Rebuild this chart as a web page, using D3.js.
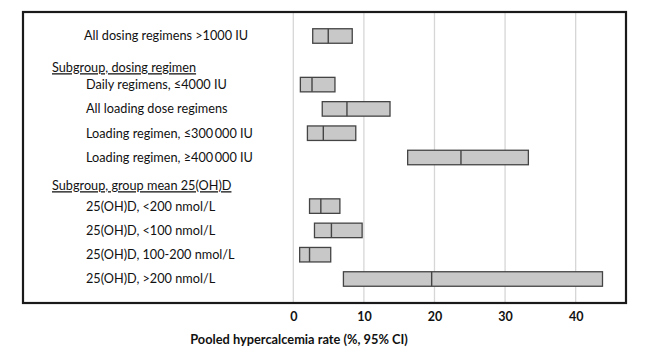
<!DOCTYPE html>
<html><head><meta charset="utf-8">
<script src="https://cdn.jsdelivr.net/npm/d3@7"></script>
<style>body{margin:0;background:#fff}svg{display:block}text{font-family:Lato,"Open Sans",sans-serif;fill:#111}</style>
</head><body><svg id="c" width="649" height="356"></svg>
<script>
// rows: slot index on the vertical layout, label, and whether it is a heading
const rowLabels = ["All dosing regimens >1000 IU","Subgroup, dosing regimen","Daily regimens, \u22644000 IU","All loading dose regimens","Loading regimen, \u2264300\u2009000 IU","Loading regimen, \u2265400\u2009000 IU","Subgroup, group mean 25(OH)D","25(OH)D, <200 nmol/L","25(OH)D, <100 nmol/L","25(OH)D, 100-200 nmol/L","25(OH)D, >200 nmol/L"];
const isHeader = [false,true,false,false,false,false,true,false,false,false,false];
const lower  = [2.75,null,1.0,4.1,2.0,16.2,null,2.3,3.0,0.9,7.1];
const median = [4.95,null,2.65,7.6,4.25,23.75,null,3.9,5.4,2.3,19.6];
const upper  = [8.35,null,5.9,13.7,8.85,33.3,null,6.6,9.75,5.3,43.8];
const xTicks = [0,10,20,30,40];
const xTitle = "Pooled hypercalcemia rate (%, 95% CI)";

const svg = d3.select("#c");
const frame = {left:23, top:12, right:626, bottom:303};
const x = d3.scaleLinear().domain([0,47.2]).range([293.3,626.5]);
const y = d3.scalePoint().domain(d3.range(rowLabels.length)).range([36,279]);

// gridlines
svg.append("g").selectAll("line").data(xTicks).join("line")
  .attr("x1",d=>x(d)).attr("x2",d=>x(d)).attr("y1",frame.top).attr("y2",frame.bottom)
  .attr("stroke","#d6d6d6").attr("stroke-width",1.3);

// bars
const rows = rowLabels.map((l,i)=>({i,l,h:isHeader[i],lo:lower[i],md:median[i],hi:upper[i]})).filter(d=>!d.h);
const bh = 14.5;
const g = svg.append("g");
g.selectAll("rect").data(rows).join("rect")
  .attr("x",d=>x(d.lo)).attr("width",d=>x(d.hi)-x(d.lo))
  .attr("y",d=>y(d.i)-bh/2).attr("height",bh)
  .attr("fill","#c8c8c8").attr("stroke","#444").attr("stroke-width",1.3);
g.selectAll("line").data(rows).join("line")
  .attr("x1",d=>x(d.md)).attr("x2",d=>x(d.md))
  .attr("y1",d=>y(d.i)-bh/2).attr("y2",d=>y(d.i)+bh/2)
  .attr("stroke","#444").attr("stroke-width",1.4);

// frame
svg.append("rect").attr("x",frame.left).attr("y",frame.top)
  .attr("width",frame.right-frame.left).attr("height",frame.bottom-frame.top)
  .attr("fill","none").attr("stroke","#1a1a1a").attr("stroke-width",2.2);

// labels
svg.append("g").selectAll("text").data(rowLabels.map((l,i)=>({l,i,h:isHeader[i]}))).join("text")
  .attr("x",d=>d.h?52:(d.i===0?84:86))
  .attr("y",d=>d.h?y(d.i)+(d.i===1?7.5:4):y(d.i))
  .attr("dy","0.35em").attr("font-size",12.7)
  .attr("text-decoration",d=>d.h?"underline":null)
  .text(d=>d.l);

// x axis tick labels
const axis = d3.axisBottom(x).tickValues(xTicks).tickSize(0).tickPadding(0);
const ag = svg.append("g").attr("transform",`translate(0,${frame.bottom})`).call(axis);
ag.select(".domain").remove();
ag.selectAll("text").attr("y",9).attr("font-size",12.5).attr("font-weight","bold").style("font-family","Lato,sans-serif").attr("fill","#111");

svg.append("text").attr("x",299).attr("y",340).attr("dy","0.35em").attr("text-anchor","middle")
  .attr("font-size",12.8).attr("font-weight","bold").text(xTitle);
</script></body></html>
